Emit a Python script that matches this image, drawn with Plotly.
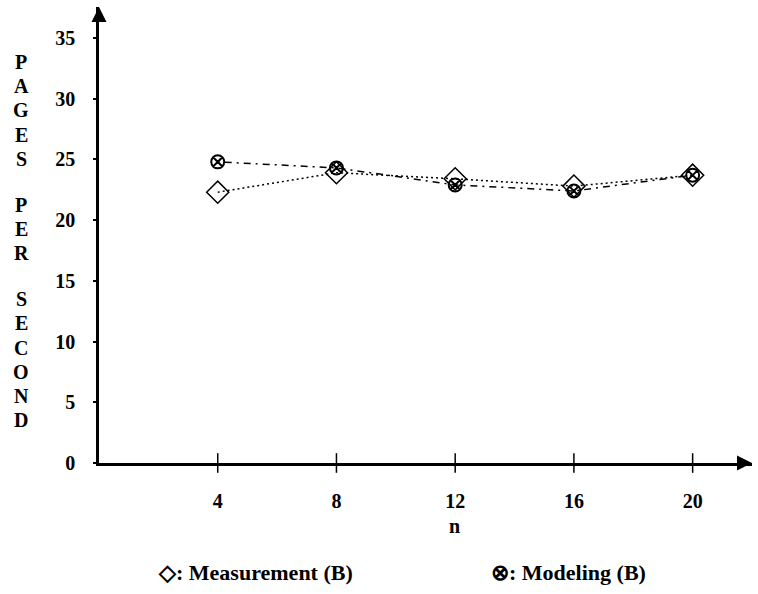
import plotly.graph_objects as go

n_values = [4, 8, 12, 16, 20]
measurement = [22.3, 23.9, 23.4, 22.8, 23.7]
modeling = [24.8, 24.3, 22.9, 22.4, 23.7]
y_ticks = [0, 5, 10, 15, 20, 25, 30, 35]
x_ticks = [4, 8, 12, 16, 20]
y_title_words = ["PAGES", "PER", "SECOND"]
legend_items = ["\u25C7: Measurement (B)", "\u2297: Modeling (B)"]

W, H = 758, 594
L, R, T, B = 99, 6, 7, 131
PW, PH = W - L - R, H - T - B
FONT = "Liberation Serif"


def px(xp):
    return (xp - L) / PW


def py(yp):
    return (H - B - yp) / PH


fig = go.Figure()

fig.add_trace(go.Scatter(
    x=n_values, y=measurement, mode="lines+markers",
    line=dict(color="black", width=1.5, dash="2px,3px"),
    marker=dict(symbol="diamond-open", size=17, color="black", line=dict(width=1.5)),
    showlegend=False, cliponaxis=False))
fig.add_trace(go.Scatter(
    x=n_values, y=modeling, mode="lines+markers",
    line=dict(color="black", width=1.5, dash="2px,5px,7px,5px"),
    marker=dict(symbol="circle-x-open", size=13, color="black", line=dict(width=2)),
    showlegend=False, cliponaxis=False))
# crossing tick marks on the x axis
fig.add_trace(go.Scatter(
    x=x_ticks, y=[0] * len(x_ticks), mode="markers",
    marker=dict(symbol="line-ns", size=14, line=dict(color="black", width=1.5)),
    showlegend=False, cliponaxis=False, hoverinfo="skip"))

annotations = []
# axis arrowheads
annotations.append(dict(x=22.0, y=0, xref="x", yref="y", ax=-14, ay=0,
                        showarrow=True, arrowhead=2, arrowsize=1.2, arrowwidth=2.5,
                        arrowcolor="black", text=""))
annotations.append(dict(x=0, y=37.55, xref="x", yref="y", ax=0, ay=14,
                        showarrow=True, arrowhead=2, arrowsize=1.2, arrowwidth=2.5,
                        arrowcolor="black", text=""))

# stacked vertical y-title
ypos = 62
step = 24.2
for wi, word in enumerate(y_title_words):
    for ch in word:
        annotations.append(dict(x=px(21), y=py(ypos), xref="paper", yref="paper",
                                text="<b>" + ch + "</b>", showarrow=False,
                                xanchor="center", yanchor="middle",
                                font=dict(family=FONT, size=20, color="black")))
        ypos += step
    ypos += step * 0.9

# x title
annotations.append(dict(x=px(455), y=py(526), xref="paper", yref="paper", text="<b>n</b>",
                        showarrow=False, xanchor="center", yanchor="middle",
                        font=dict(family=FONT, size=20, color="black")))
# legend text
annotations.append(dict(x=px(255), y=py(572), xref="paper", yref="paper",
                        text="<b>" + legend_items[0] + "</b>",
                        showarrow=False, xanchor="center", yanchor="middle",
                        font=dict(family=FONT, size=22, color="black")))
annotations.append(dict(x=px(568), y=py(572), xref="paper", yref="paper",
                        text="<b>" + legend_items[1] + "</b>",
                        showarrow=False, xanchor="center", yanchor="middle",
                        font=dict(family=FONT, size=22, color="black")))

fig.update_layout(
    width=W, height=H,
    margin=dict(l=L, r=R, t=T, b=B, pad=0),
    paper_bgcolor="white", plot_bgcolor="white",
    font=dict(family=FONT, color="black"),
    annotations=annotations,
    xaxis=dict(range=[0, 22.0], tickvals=x_ticks, ticktext=["<b>%d</b>" % v for v in x_ticks],
               showgrid=False, zeroline=False, showline=True, linecolor="black", linewidth=2.5,
               ticks="", tickfont=dict(family=FONT, size=20, color="black"),
               ticklabelstandoff=18),
    yaxis=dict(range=[0, 37.55], tickvals=y_ticks, ticktext=["<b>%d</b>" % v for v in y_ticks],
               showgrid=False, zeroline=False, showline=True, linecolor="black", linewidth=2.5,
               ticks="outside", ticklen=3, tickwidth=1.5, tickcolor="black",
               tickfont=dict(family=FONT, size=20, color="black"),
               ticklabelstandoff=14),
)

fig.write_html("out.html")
